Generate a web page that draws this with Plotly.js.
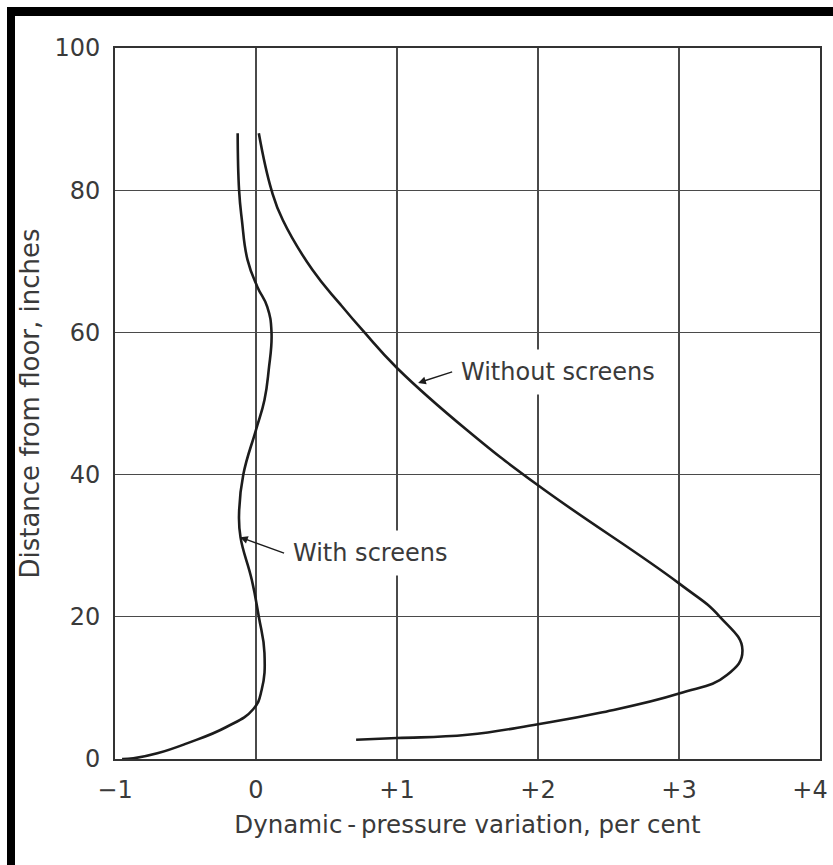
<!DOCTYPE html>
<html>
<head>
<meta charset="utf-8">
<script src="https://cdn.plot.ly/plotly-3.0.1.min.js"></script>
<style>
  html, body { margin: 0; padding: 0; background: #fff; }
  #wrap { position: relative; width: 833px; height: 865px; overflow: hidden; }
  #chart { position: absolute; left: 0; top: 0; width: 833px; height: 865px; }
  .edge { position: absolute; background: #000; pointer-events: none; }
</style>
</head>
<body>
<div id="wrap">
  <div id="chart"></div>
  <div class="edge" style="left:7px; top:7px; width:826px; height:9px;"></div>
  <div class="edge" style="left:7px; top:7px; width:8px; height:858px;"></div>
</div>
<script>
// Velocity-profile survey: dynamic-pressure variation (per cent) against height above floor (inches)
const withoutScreensX = [0.71, 1.0, 1.5, 2.0, 2.44, 3.0, 3.34, 3.45, 3.29, 3.0, 2.0, 1.5, 1.0, 0.76, 0.6, 0.40, 0.19, 0.11, 0.02];
const withoutScreensY = [2.7, 2.95, 3.4, 4.9, 6.5, 9.2, 11.8, 15.3, 20.0, 24.7, 38.5, 46.2, 55.0, 60.2, 63.9, 68.8, 75.8, 80.0, 88.0];

const withScreensX = [-0.95, -0.87, -0.70, -0.49, -0.21, -0.02, 0.04, 0.06, 0.02, -0.03, -0.11, -0.12, -0.09, 0.0, 0.06, 0.09, 0.11, 0.08, 0.01, -0.06, -0.10, -0.12, -0.13];
const withScreensY = [0.0, 0.1, 0.8, 2.2, 4.5, 7.0, 9.7, 14.9, 20.0, 25.2, 31.2, 34.6, 40.0, 46.3, 50.5, 54.7, 60.0, 63.6, 66.4, 70.2, 75.8, 80.0, 88.0];

const xTickVals = [-1, 0, 1, 2, 3];
const xTickText = ['\u22121', '0', '+1', '+2', '+3'];
const xEndTickVals = [4];
const xEndTickText = ['+4'];
const yTickVals = [0, 20, 40, 60, 80, 100];

const ink = '#1c1c1c';
const textInk = '#3a3a3a';
const face = 'DejaVu Sans, sans-serif';

const curveStyle = { color: ink, width: 2.6, shape: 'spline', smoothing: 1.3 };

const traces = [
  { x: withoutScreensX, y: withoutScreensY, xaxis: 'x2', mode: 'lines', line: curveStyle, name: 'Without screens', hoverinfo: 'skip' },
  { x: withScreensX, y: withScreensY, mode: 'lines', line: curveStyle, name: 'With screens', hoverinfo: 'skip' }
];

const tickFont = { family: face, size: 24, color: textInk };

const layout = {
  width: 833, height: 865,
  margin: { l: 115, r: 13, t: 48, b: 106 },
  paper_bgcolor: '#fff', plot_bgcolor: '#fff',
  showlegend: false,
  font: { family: face, color: textInk },
  xaxis: {
    range: [-1, 4], tickmode: 'array', tickvals: xTickVals, ticktext: xTickText,
    showgrid: true, gridcolor: '#4a4a4a', gridwidth: 1.3,
    showline: true, mirror: true, linecolor: '#333', linewidth: 1.8,
    zeroline: false, ticks: '', automargin: false,
    tickfont: tickFont, ticklabelstandoff: 8,
    title: { text: 'Dynamic\u2009-\u2009pressure variation, per cent', font: { family: face, size: 24.5, color: textInk }, standoff: 13 }
  },
  // end-of-scale label sits just inside the frame edge
  xaxis2: {
    overlaying: 'x', anchor: 'y', side: 'bottom',
    range: [-1, 4], tickmode: 'array', tickvals: xEndTickVals, ticktext: xEndTickText,
    showgrid: false, showline: false, zeroline: false, ticks: '', automargin: false,
    tickfont: tickFont, ticklabelstandoff: 14, ticklabelshift: -10, ticklabeloverflow: 'allow'
  },
  yaxis: {
    range: [0, 100], tickmode: 'array', tickvals: yTickVals,
    showgrid: true, gridcolor: '#4a4a4a', gridwidth: 1.3,
    showline: true, mirror: true, linecolor: '#333', linewidth: 1.8,
    zeroline: false, ticks: '', automargin: false,
    tickfont: tickFont, ticklabelstandoff: 8,
    title: { text: 'Distance from floor, inches', font: { family: face, size: 26, color: textInk }, standoff: 7 }
  },
  annotations: [
    {
      x: 1.15, y: 52.9, xref: 'x', yref: 'y',
      text: 'Without screens', showarrow: true,
      ax: 34, ay: -11, xanchor: 'left', yanchor: 'middle',
      arrowhead: 2, arrowsize: 1.1, arrowwidth: 1.4, arrowcolor: ink,
      bgcolor: '#fff', borderpad: 8,
      font: { family: face, size: 24, color: textInk }
    },
    {
      x: -0.113, y: 31.2, xref: 'x', yref: 'y',
      text: 'With screens', showarrow: true,
      ax: 44, ay: 16, xanchor: 'left', yanchor: 'middle',
      arrowhead: 2, arrowsize: 1.1, arrowwidth: 1.4, arrowcolor: ink,
      bgcolor: '#fff', borderpad: 8,
      font: { family: face, size: 24, color: textInk }
    }
  ]
};

Plotly.newPlot('chart', traces, layout, { staticPlot: true, displayModeBar: false });
</script>
</body>
</html>
